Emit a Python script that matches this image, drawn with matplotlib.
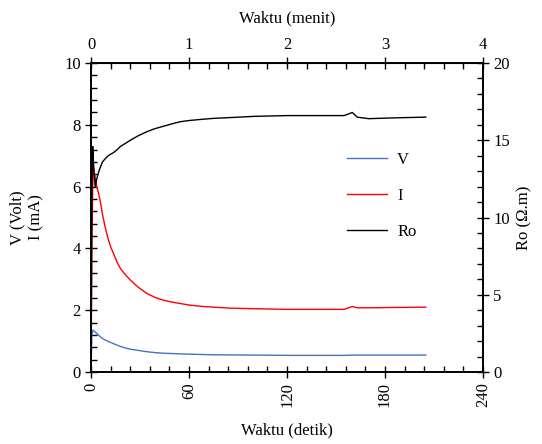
import numpy as np
import matplotlib.pyplot as plt
from matplotlib.ticker import MultipleLocator, FixedLocator

plt.rcParams['font.family'] = ['Liberation Serif', 'DejaVu Serif']
plt.rcParams['font.size'] = 12

# time in seconds
t = [0, 0.5, 1.0, 1.5, 2.5, 3.5, 4.5, 5.5, 7, 8.6, 10.5, 12, 13.7, 16, 18, 21, 24,
     29, 34, 39, 44, 49, 54.5, 60, 67, 75, 85, 100, 120, 140, 155, 160, 163, 170,
     185, 205]
# voltage (Volt)
V = [0, 1.2, 1.36, 1.34, 1.3, 1.25, 1.2, 1.15, 1.09, 1.04, 0.99, 0.96, 0.92, 0.87,
     0.83, 0.78, 0.74, 0.7, 0.66, 0.63, 0.61, 0.6, 0.59, 0.58, 0.57, 0.56, 0.555,
     0.55, 0.54, 0.54, 0.54, 0.55, 0.55, 0.55, 0.55, 0.55]
# current (mA)
I = [0, 4.0, 6.0, 6.6, 6.3, 6.0, 5.8, 5.57, 5.1, 4.7, 4.3, 4.05, 3.84, 3.55, 3.35,
     3.15, 2.98, 2.74, 2.55, 2.42, 2.33, 2.27, 2.22, 2.17, 2.13, 2.1, 2.07, 2.05,
     2.03, 2.03, 2.03, 2.12, 2.08, 2.08, 2.09, 2.1]
# resistivity (Ohm.m)
Ro = [0, 11.5, 14.6, 13.5, 12.0, 12.5, 12.9, 13.2, 13.6, 13.8, 14.0, 14.1, 14.2,
      14.4, 14.6, 14.8, 15.0, 15.3, 15.55, 15.75, 15.9, 16.05, 16.2, 16.28, 16.35,
      16.42, 16.47, 16.55, 16.6, 16.6, 16.6, 16.8, 16.5, 16.4, 16.45, 16.5]

fig = plt.figure(figsize=(5.42, 4.44), dpi=100)
ax = fig.add_axes([0.168, 0.162, 0.723, 0.696])
ax2 = ax.twinx()

lv, = ax.plot(t, V, color='#4472C4', lw=1.0, label='V')
li, = ax.plot(t, I, color='#FF0000', lw=1.0, label='I')
lr, = ax2.plot(t, Ro, color='black', lw=1.0, label='Ro')

ax.set_xlim(0, 240)
ax.set_ylim(0, 10)
ax2.set_ylim(0, 20)
ax.xaxis.set_major_locator(MultipleLocator(60))
ax.xaxis.set_minor_locator(MultipleLocator(12))
ax.yaxis.set_major_locator(MultipleLocator(2))
ax.yaxis.set_minor_locator(MultipleLocator(0.4))
ax2.yaxis.set_major_locator(MultipleLocator(5))
ax2.yaxis.set_minor_locator(MultipleLocator(1))

for a in (ax, ax2):
    a.tick_params(which='major', direction='inout', length=8, width=1)
    a.tick_params(which='minor', direction='in', length=4, width=1)
    for s in a.spines.values():
        s.set_linewidth(1.2)
ax.tick_params(axis='x', labelrotation=90)

top = ax.secondary_xaxis('top', functions=(lambda s: s / 60, lambda m: m * 60))
top.xaxis.set_major_locator(FixedLocator([0, 1, 2, 3, 4]))
top.xaxis.set_minor_locator(FixedLocator([k * 0.2 for k in range(21)]))
top.tick_params(which='major', direction='inout', length=8, width=1)
top.tick_params(which='minor', direction='in', length=4, width=1)
top.set_xlabel('Waktu (menit)', labelpad=10)

ax.set_xlabel('Waktu (detik)', labelpad=11)
ax.set_ylabel('V (Volt)\nI (mA)')
ax.yaxis.set_label_coords(-0.12, 0.5)
ax2.set_ylabel('Ro (Ω.m)')
ax2.yaxis.set_label_coords(1.085, 0.5)

ax.legend(handles=[lv, li, lr], loc='upper left', bbox_to_anchor=(0.615, 0.76),
          frameon=False, labelspacing=1.2, handlelength=2.4, handletextpad=0.6)

fig.savefig('out.png', dpi=100)
